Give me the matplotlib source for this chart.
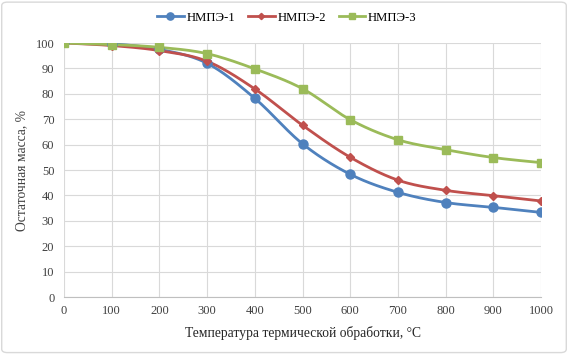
import numpy as np
import matplotlib.pyplot as plt
from matplotlib.patches import FancyBboxPatch

plt.rcParams['font.family'] = ['Liberation Serif', 'DejaVu Serif']

temps = [0, 100, 200, 300, 400, 500, 600, 700, 800, 900, 1000]
nmpe1 = [100.5, 99.7, 97.5, 92.0, 78.2, 60.3, 48.3, 41.2, 37.2, 35.3, 33.3]
nmpe2 = [100.0, 99.0, 97.0, 92.8, 81.9, 67.6, 55.0, 46.0, 42.0, 39.9, 37.8]
nmpe3 = [100.0, 99.4, 98.3, 95.8, 89.8, 82.0, 69.8, 61.9, 58.0, 54.9, 52.9]
labels = ['НМПЭ-1', 'НМПЭ-2', 'НМПЭ-3']
colors = ['#4f81bd', '#c0504d', '#9bbb59']
markers = ['o', 'D', 's']
msizes = [6.5, 4, 6]


def smooth(x, y, n=30):
    # excel-like smoothed line: cubic bezier with catmull-rom control points
    x = np.asarray(x, float)
    y = np.asarray(y, float)
    px = np.concatenate([[x[0]], x, [x[-1]]])
    py = np.concatenate([[y[0]], y, [y[-1]]])
    t = np.linspace(0, 1, n)[:, None]
    xs, ys = [], []
    for i in range(1, len(px) - 2):
        p0 = np.array([px[i], py[i]])
        p3 = np.array([px[i + 1], py[i + 1]])
        p1 = p0 + (p3 - np.array([px[i - 1], py[i - 1]])) / 6
        p2 = p3 - (np.array([px[i + 2], py[i + 2]]) - p0) / 6
        b = ((1 - t) ** 3) * p0 + 3 * ((1 - t) ** 2) * t * p1 + 3 * (1 - t) * t ** 2 * p2 + t ** 3 * p3
        xs.append(b[:, 0])
        ys.append(b[:, 1])
    return np.concatenate(xs), np.concatenate(ys)


fig = plt.figure(figsize=(5.68, 3.54), dpi=100)
ax = fig.add_axes([0.1127, 0.161, 0.84, 0.7175])

for ys, lab, c, m, ms in zip([nmpe1, nmpe2, nmpe3], labels, colors, markers, msizes):
    sx, sy = smooth(temps, ys)
    ax.plot(sx, sy, color=c, lw=2, zorder=3)
    ax.plot(temps, ys, ls='none', marker=m, ms=ms, color=c, zorder=4)
    ax.plot([], [], color=c, lw=2, marker=m, ms=ms * 0.8, label=lab)

ax.set_xlim(0, 1000)
ax.set_ylim(0, 100)
ax.set_xticks(range(0, 1001, 100))
ax.set_yticks(range(0, 101, 10))
ax.grid(True, color='#d9d9d9', lw=0.8)
ax.set_axisbelow(True)
for s in ['top', 'right', 'left']:
    ax.spines[s].set_visible(False)
ax.spines['bottom'].set_color('#bfbfbf')
ax.tick_params(axis='y', length=0, labelsize=9, colors='#404040', pad=7)
ax.tick_params(axis='x', length=0, labelsize=9, colors='#404040', pad=6)
ax.set_xlabel('Температура термической обработки, °C', fontsize=9.8, color='#262626', labelpad=6)
ax.set_ylabel('Остаточная масса, %', fontsize=9.8, color='#404040', labelpad=5)

handles, labs = ax.get_legend_handles_labels()
fig.legend(handles, labs, loc='center', bbox_to_anchor=(0.505, 0.95), ncol=3, frameon=False,
           fontsize=9.2, handlelength=2.1, columnspacing=1.0, handletextpad=0.2)

fig.patches.append(FancyBboxPatch((0.003, 0.004), 0.994, 0.99, boxstyle='round,pad=0,rounding_size=0.01',
                                  transform=fig.transFigure, fill=False, ec='#d9d9d9', lw=1))

fig.savefig('out.png', dpi=100)
